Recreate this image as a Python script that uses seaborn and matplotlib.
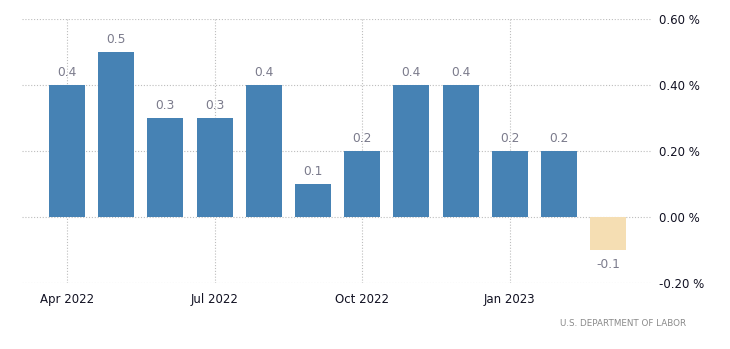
import matplotlib
matplotlib.use("Agg")
import matplotlib.pyplot as plt
import seaborn as sns
import pandas as pd

months = ["Apr 2022", "May 2022", "Jun 2022", "Jul 2022", "Aug 2022", "Sep 2022",
          "Oct 2022", "Nov 2022", "Dec 2022", "Jan 2023", "Feb 2023", "Mar 2023"]
values = [0.4, 0.5, 0.3, 0.3, 0.4, 0.1, 0.2, 0.4, 0.4, 0.2, 0.2, -0.1]
tick_labels = ["Apr 2022", "Jul 2022", "Oct 2022", "Jan 2023"]
y_ticks = [-0.2, 0.0, 0.2, 0.4, 0.6]
source = "U.S. DEPARTMENT OF LABOR"

sns.set_theme(style="white")
plt.rcParams["font.family"] = ["DejaVu Sans"]

df = pd.DataFrame({"month": months, "value": values})
df["sign"] = ["neg" if v < 0 else "pos" for v in values]

fig = plt.figure(figsize=(7.30, 3.49), dpi=100)
ax = fig.add_axes([22 / 730, 1 - 283 / 349, (652 - 22) / 730, (283 - 19) / 349])

sns.barplot(data=df, x="month", y="value", hue="sign", order=months,
            palette={"pos": "#4682b4", "neg": "#f5deb3"}, dodge=False,
            width=0.73, legend=False, ax=ax, saturation=1, linewidth=0)

ax.set_xlim(-0.915, 11.89)
ax.set_ylim(-0.2, 0.6)

# value labels above positive bars, below negative ones
for i, v in enumerate(values):
    off = 4.5 if v >= 0 else -6
    ax.annotate(f"{v:.1f}", (i, v), xytext=(0, off), textcoords="offset points",
                ha="center", va="bottom" if v >= 0 else "top",
                fontsize=8.8, color="#7b7b8c")

tick_pos = [months.index(t) for t in tick_labels]
ax.set_xticks(tick_pos)
ax.set_xticklabels(tick_labels)
ax.set_yticks(y_ticks)
ax.set_yticklabels([f"{t:.2f} %" for t in y_ticks])
ax.yaxis.tick_right()
ax.set_xlabel("")
ax.set_ylabel("")

ax.grid(True, axis="both", linestyle=(0, (1, 1.6)), color="#bdbdbd", linewidth=0.8)
ax.set_axisbelow(True)
for s in ax.spines.values():
    s.set_visible(False)

ax.tick_params(axis="x", length=5, color="#c4c4c4", labelsize=8.5, labelcolor="#111122", pad=2)
ax.tick_params(axis="y", length=0, labelsize=8.5, labelcolor="#111122", pad=5)

fig.text(686 / 730, 1 - 324 / 349, source, ha="right", va="center",
         fontsize=6.3, color="#8a8a8a")

fig.savefig("out.png", dpi=100)
